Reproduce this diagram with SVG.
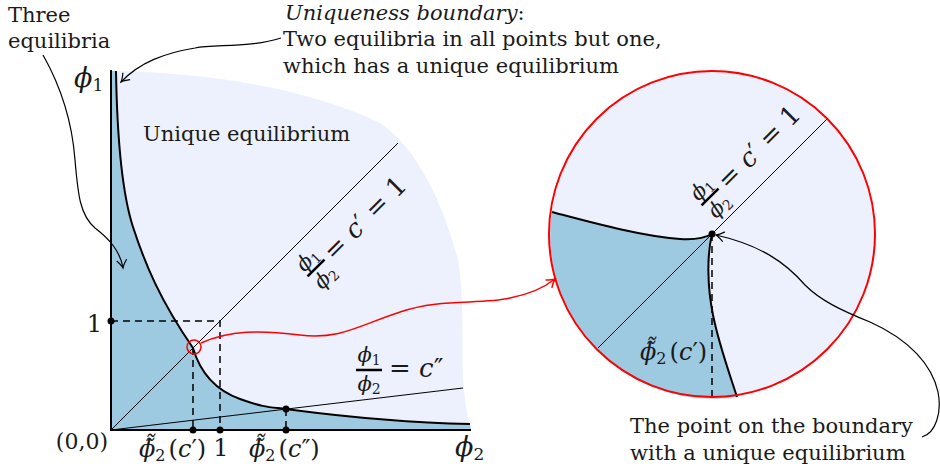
<svg xmlns="http://www.w3.org/2000/svg" width="940" height="475" viewBox="0 0 940 475">
<defs>
<style>
text { font-family: "DejaVu Serif", "Liberation Serif", serif; fill: #1a1a1a; }
.lab { font-size: 21px; }
.it { font-style: italic; }
.up { font-style: normal; }
.thin { stroke: #000; stroke-width: 1; fill: none; }
.curve { stroke: #000; stroke-width: 2; fill: none; }
.axis { stroke: #000; stroke-width: 2; fill: none; }
.dash { stroke: #000; stroke-width: 1.5; stroke-dasharray: 7 5; fill: none; }
.conn { stroke: #000; stroke-width: 1.2; fill: none; marker-end: url(#ah); }
.rconn { stroke: #f00; stroke-width: 1.5; fill: none; marker-end: url(#ahr); }
.light { fill: #edf1fd; }
.dark { fill: #9ecae1; }
.bar { stroke: #000; stroke-width: 2.5; }
</style>
<marker id="ah" markerWidth="12" markerHeight="12" refX="0" refY="0" viewBox="-10 -6 12 12" orient="auto" markerUnits="userSpaceOnUse">
<path d="M-8,-5 Q-3,-1 0,0 Q-3,1 -8,5" fill="none" stroke="#000" stroke-width="1.2"/>
</marker>
<marker id="ahr" markerWidth="12" markerHeight="12" refX="0" refY="0" viewBox="-10 -6 12 12" orient="auto" markerUnits="userSpaceOnUse">
<path d="M-8,-5 Q-3,-1 0,0 Q-3,1 -8,5" fill="none" stroke="#f00" stroke-width="1.5"/>
</marker>
</defs>

<g id="main-plot">
<path class="light" d="M111,71 L117,71 C200,73 300,85 380,123 C420,150 445,210 458,260 C465,300 461,360 464,390 C466,410 468,420 471,430 L111,430 Z"/>
<path class="dark" d="M111,71 L116,71 C117,130 121,190 133,227 S160,300 193,348 C200,372 215,390 240,399 S270,407 286,409 S380,422 470,424 L471,430 L111,430 Z"/>
<line class="thin" x1="111" y1="430" x2="398" y2="143"/>
<line class="thin" x1="111" y1="430" x2="463" y2="388"/>
<path class="curve" d="M116,71 C117,130 121,190 133,227 S160,300 193,348 C200,372 215,390 240,399 S270,407 286,409 S380,422 470,424"/>
<path class="dash" d="M111,321 H220 V430"/>
<line class="dash" x1="193" y1="348" x2="193" y2="430"/>
<line class="dash" x1="286" y1="409" x2="286" y2="430"/>
<line class="axis" x1="111" y1="70" x2="111" y2="431"/>
<line class="axis" x1="110" y1="430" x2="471" y2="430"/>
<circle cx="111" cy="321" r="3.5"/>
<circle cx="193" cy="430" r="3.5"/>
<circle cx="220" cy="430" r="3.5"/>
<circle cx="286" cy="430" r="3.5"/>
<circle cx="286" cy="409" r="3.5"/>
<circle cx="194" cy="347" r="7" fill="none" stroke="#f00" stroke-width="1.5"/>
<text class="lab" x="143" y="141">Unique equilibrium</text>
<text class="it" x="74" y="87" font-size="27">ϕ<tspan class="up" font-size="17" dy="4">1</tspan></text>
<text class="it" x="455" y="456" font-size="27">ϕ<tspan class="up" font-size="17" dy="4">2</tspan></text>
<text x="102" y="332" font-size="24" text-anchor="end">1</text>
<text x="221" y="456" font-size="24" text-anchor="middle">1</text>
<text x="108" y="449" font-size="22" text-anchor="end">(0,0)</text>
<text id="lbl-phi-c1" x="139" y="457" font-size="24"><tspan class="it">ϕ̃̃</tspan><tspan font-size="16" dy="4">2</tspan><tspan dy="-4" dx="3">(</tspan><tspan class="it">c</tspan>′)</text>
<text id="lbl-phi-c2" x="249" y="457" font-size="24"><tspan class="it">ϕ̃̃</tspan><tspan font-size="16" dy="4">2</tspan><tspan dy="-4" dx="3">(</tspan><tspan class="it">c</tspan>″)</text>
<g id="lbl-c2">
<text class="it" x="369" y="362" font-size="21" text-anchor="middle">ϕ<tspan class="up" font-size="14" dy="3">1</tspan></text>
<line class="bar" x1="356" y1="370" x2="382" y2="370"/>
<text class="it" x="369" y="391" font-size="21" text-anchor="middle">ϕ<tspan class="up" font-size="14" dy="3">2</tspan></text>
<text x="389" y="377" font-size="26">= <tspan class="it">c</tspan>″</text>
</g>
<g id="lbl-c1" transform="translate(316,268) rotate(-45)">
<text class="it" x="0" y="-5" font-size="21" text-anchor="middle">ϕ<tspan class="up" font-size="14" dy="3">1</tspan></text>
<line class="bar" x1="-12" y1="0" x2="12" y2="0"/>
<text class="it" x="0" y="20" font-size="21" text-anchor="middle">ϕ<tspan class="up" font-size="14" dy="3">2</tspan></text>
<text x="17" y="8" font-size="26">= <tspan class="it">c</tspan>′ = 1</text>
</g>
</g>

<g id="magnifier">
<circle cx="712" cy="234" r="163" class="light"/>
<path class="dark" d="M552,212 C590,222 640,236 680,239 C695,240 705,238 712,234 C707,255 707,285 713,315 C719,345 730,375 737,397 A163,163 0 0 1 552,212 Z"/>
<line class="thin" x1="598" y1="348" x2="827" y2="119"/>
<path class="curve" d="M552,212 C590,222 640,236 680,239 C695,240 705,238 712,234"/>
<path class="curve" d="M712,234 C707,255 707,285 713,315 C719,345 730,375 737,397"/>
<line class="dash" x1="712" y1="234" x2="712" y2="397"/>
<circle cx="712" cy="234" r="163" fill="none" stroke="#f00" stroke-width="2"/>
<circle cx="712" cy="234" r="3.5"/>
<text id="lbl-phi-c1-zoom" x="640" y="360" font-size="24"><tspan class="it">ϕ̃̃</tspan><tspan font-size="16" dy="4">2</tspan><tspan dy="-4" dx="3">(</tspan><tspan class="it">c</tspan>′)</text>
<g id="lbl-c1-zoom" transform="translate(710,197) rotate(-45)">
<text class="it" x="0" y="-5" font-size="21" text-anchor="middle">ϕ<tspan class="up" font-size="14" dy="3">1</tspan></text>
<line class="bar" x1="-12" y1="0" x2="12" y2="0"/>
<text class="it" x="0" y="20" font-size="21" text-anchor="middle">ϕ<tspan class="up" font-size="14" dy="3">2</tspan></text>
<text x="17" y="8" font-size="26">= <tspan class="it">c</tspan>′ = 1</text>
</g>
</g>

<g id="annotations">
<text class="lab" x="8" y="22">Three</text>
<text class="lab" x="8" y="48">equilibria</text>
<text class="lab" x="285" y="20"><tspan class="it">Uniqueness boundary</tspan>:</text>
<text class="lab" x="283" y="46">Two equilibria in all points but one,</text>
<text class="lab" x="283" y="73">which has a unique equilibrium</text>
<text class="lab" x="630" y="433">The point on the boundary</text>
<text class="lab" x="630" y="460">with a unique equilibrium</text>
</g>

<g id="connectors">
<path class="conn" d="M281,38 C250,48 215,44 195,48 C165,53 140,62 121,82"/>
<path class="conn" d="M43,55 C60,85 72,120 75,160 C78,195 80,215 95,228 C108,238 120,250 123,268"/>
<path class="rconn" d="M201,343 C230,330 260,330 300,335 C340,340 360,325 400,312 C440,298 480,305 510,298 C530,294 545,287 555,279"/>
<path class="conn" d="M922,437 C936,433 942,412 938,392 C932,365 910,340 870,322 C840,310 820,300 805,285 C785,262 760,245 716,235"/>
</g>
</svg>
